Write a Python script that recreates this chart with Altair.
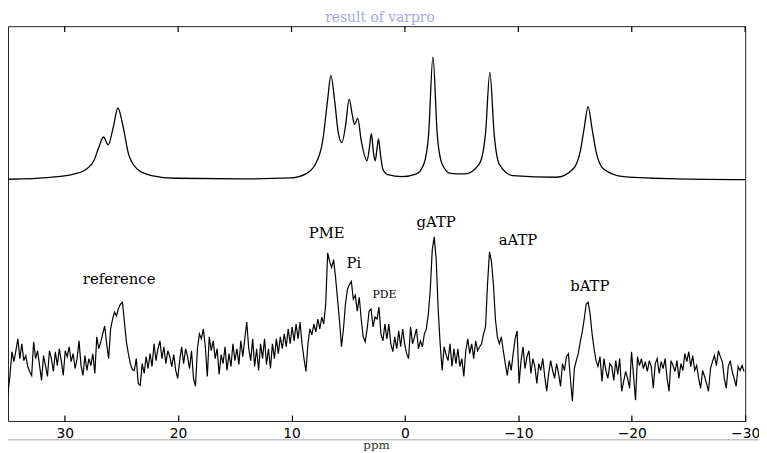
import altair as alt
import pandas as pd

# ---------------- data ----------------
# measured spectrum: sampled every ~0.174 ppm starting at 35 ppm (intensity, arbitrary units)
spectrum_vals = [
    28, 46, 70, 60, 71, 83, 63, 78, 61, 66, 55, 50, 46, 80, 63, 71, 56, 41, 66, 56,
    45, 71, 63, 50, 70, 56, 73, 61, 46, 71, 65, 75, 60, 68, 53, 63, 81, 56, 46, 66,
    51, 63, 56, 68, 48, 85, 73,
    80, 88, 96, 78, 63, 93, 103, 110, 106, 114, 118, 120, 100, 80, 68, 58, 52,
    51, 63, 38, 36, 58, 48, 65, 53, 68, 55, 78, 61, 73, 81, 63, 75, 58, 71, 65, 55,
    67, 51, 43, 61, 75, 58, 73, 65, 53, 71, 43, 35, 73, 88, 83, 93, 75, 45, 85, 71,
    81, 63, 73, 47, 67, 58, 75, 51, 68, 55, 78, 61, 73, 57, 81, 65, 83, 100, 73,
    61, 83, 55, 73, 51, 78, 63, 83, 57, 73, 53, 78, 63, 83, 68, 85, 73, 88, 75, 93,
    78, 95, 81, 98, 83, 100, 78, 63, 50, 78, 93, 87, 98, 90, 103, 93, 105, 98, 118, 170,
    161, 155, 163, 145, 123, 101, 75, 93, 118, 133, 138, 141, 123, 127, 111, 125, 103, 85, 80, 93,
    111, 113, 95, 105,
    103, 115, 88, 81, 98, 83, 98, 78, 70, 85, 73, 91, 75, 93, 78, 68, 63, 95, 78, 85,
    93, 73, 81, 75, 88, 93, 108, 133, 173, 186, 163, 113, 78, 51, 75, 67, 61, 78, 55, 73,
    58, 73, 55, 63, 45, 71, 83, 68, 78, 63, 81, 71, 75, 78, 88, 95, 138, 171, 161, 138,
    103, 85, 78,
    85, 71, 58, 46, 61, 51, 68, 83, 91, 38, 61, 75, 53, 65, 71, 48, 63, 55, 38, 58,
    51, 63, 45, 30, 48, 61, 51, 43, 58, 48, 35, 58, 51, 65, 68, 43, 20, 53, 61, 68,
    80, 90, 103, 118, 120, 108, 88, 73, 61, 55, 65, 40, 63, 51, 43, 58, 55, 41, 61, 47,
    63, 30,
    40, 50, 43, 33, 70, 46, 21, 65, 56, 63, 53, 60, 50, 61, 55, 33, 58, 63, 48, 60,
    53, 63, 43, 30, 61, 56, 50, 61, 43, 58, 51, 68, 60, 70, 55, 66, 51, 56, 43, 33,
    51, 45, 38, 30, 53, 60, 66, 56, 71, 65, 60, 43, 33, 55, 61, 50, 43, 35, 55, 51,
    56, 50,
]
spectrum_start_ppm = 35.0
spectrum_step_ppm = 0.174

# fitted (varpro) spectrum, drawn offset above the measured one
fit_ppm = [35.0, 31.25, 29.13, 28.07, 27.43, 27.0, 26.58, 26.16, 25.73, 25.31, 24.89, 24.37,
           23.61, 22.34, 20.21, 14.26, 10.0, 8.74, 7.89, 7.25, 6.83, 6.53, 6.19, 5.9, 5.56,
           5.22, 4.92, 4.62, 4.45, 4.16, 3.85, 3.35, 3.13, 2.96, 2.79, 2.62, 2.45, 2.33, 2.16,
           1.95, 1.52, 0.24, -1.03, -1.67, -2.09, -2.47, -2.85, -3.28, -4.0, -5.28, -6.55,
           -7.1, -7.49, -7.87, -8.34, -9.52, -13.35, -14.83, -15.47, -15.81, -16.15, -16.49,
           -16.84, -17.51, -19.3, -23.97, -30.0]
fit_vals = [244.3, 246.3, 249.7, 254.7, 263, 276.3, 287, 279, 296.3, 316.3, 299.7, 269.7,
            254.7, 248, 245.3, 244.7, 245.7, 249.7, 259.7, 283, 323, 349, 323, 293, 281.3,
            299.7, 325.3, 308, 299.7, 305.7, 283, 263, 276.3, 290.3, 273, 263, 276.3, 285, 269.7,
            254.7, 249, 247, 249.7, 259.7, 289.7, 368, 289.7, 259.7, 250.3, 249.7, 259.7,
            289.7, 352.3, 289.7, 259, 248, 246.3, 254.7, 273, 296.3, 317.7, 296.3,
            273, 254.7, 247, 244.7, 244]

# peak annotations
big_text = ["reference", "PME", "Pi", "gATP", "aATP", "bATP"]
big_ppm = [25.2, 6.9, 4.5, -2.75, -9.97, -16.3]
big_int = [143, 190, 160, 201, 183, 136]
small_text = ["PDE"]
small_ppm = [1.8]
small_int = [127]

tick_ppm = [30, 20, 10, 0, -10, -20, -30]

# ---------------- tables ----------------
spec_df = pd.DataFrame({
    "ppm": [spectrum_start_ppm - i * spectrum_step_ppm for i in range(len(spectrum_vals))],
    "intensity": spectrum_vals,
})
fit_df = pd.DataFrame({"ppm": fit_ppm, "intensity": fit_vals})
big_df = pd.DataFrame({"label": big_text, "ppm": big_ppm, "intensity": big_int})
small_df = pd.DataFrame({"label": small_text, "ppm": small_ppm, "intensity": small_int})
top_tick_df = pd.DataFrame({"ppm": [float(v) for v in tick_ppm],
                            "intensity": [393.0] * len(tick_ppm),
                            "intensity2": [399.0] * len(tick_ppm)})
title_df = pd.DataFrame({"label": ["result of varpro"], "ppm": [2.2], "intensity": [403]})
xlab_df = pd.DataFrame({"label": ["ppm"], "ppm": [2.5], "intensity": [-28]})
gray_df = pd.DataFrame({"ppm": [35.0], "ppm2": [-31.2], "intensity": [-19]})

W, H = 745, 399
TICK = 6
xscale = alt.Scale(domain=[35, -30], nice=False, zero=False)
yscale = alt.Scale(domain=[0, 399], nice=False, zero=False)

# bottom axis pulled into the frame so its ticks point inward
bottom_axis = alt.Axis(orient="bottom", values=tick_ppm, title=None, grid=False, domain=False,
                       ticks=True, tickSize=TICK, tickColor="#000000", tickWidth=1.2, offset=-TICK,
                       labelPadding=6, labelFont="DejaVu Sans", labelFontSize=14,
                       labelColor="#000000", labelFlush=False)

X = alt.X("ppm:Q", scale=xscale, axis=bottom_axis)
Y = alt.Y("intensity:Q", scale=yscale, axis=None)

spectrum = alt.Chart(spec_df).mark_line(color="#000000", strokeWidth=1.2).encode(x=X, y=Y)
fit = alt.Chart(fit_df).mark_line(color="#000000", strokeWidth=1.3, interpolate="monotone").encode(x=X, y=Y)

labels = alt.Chart(big_df).mark_text(font="DejaVu Serif", fontSize=15, color="#000000",
                                     align="center", baseline="middle").encode(x=X, y=Y, text="label:N")
labels2 = alt.Chart(small_df).mark_text(font="DejaVu Serif", fontSize=11, color="#000000",
                                        align="center", baseline="middle").encode(x=X, y=Y, text="label:N")

top_ticks = alt.Chart(top_tick_df).mark_rule(color="#000000", strokeWidth=1.2).encode(
    x=X, y=Y, y2="intensity2:Q")

title = alt.Chart(title_df).mark_text(
    font="DejaVu Serif", fontSize=14, color="#a8a8e4", align="center", baseline="alphabetic"
).encode(x=X, y=Y, text="label:N")

xlabel = alt.Chart(xlab_df).mark_text(
    font="DejaVu Serif", fontSize=12, color="#333333", align="center", baseline="alphabetic"
).encode(x=X, y=Y, text="label:N")

gray_line = alt.Chart(gray_df).mark_rule(color="#c4c4c4", strokeWidth=1.5).encode(
    x=X, x2="ppm2:Q", y=Y)

chart = alt.layer(spectrum, fit, gray_line, top_ticks, labels, labels2, title, xlabel).properties(
    width=W, height=H,
    autosize=alt.AutoSizeParams(type="none"),
    padding={"left": 0, "top": 16, "right": 14, "bottom": 30},
).configure_view(stroke="#222222", strokeWidth=1)

chart.save("out.html", embed_options={"renderer": "svg", "actions": False})
